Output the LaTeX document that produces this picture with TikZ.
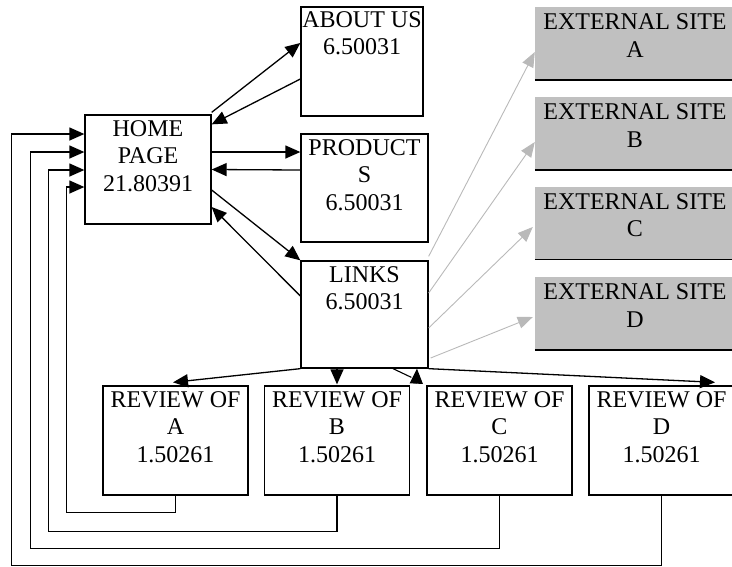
\documentclass[tikz,border=0pt]{standalone}
\usepackage{fontspec}
\setmainfont{Liberation Serif}
\usetikzlibrary{arrows.meta}
\definecolor{extgray}{RGB}{192,192,192}
\definecolor{linkgray}{RGB}{185,185,185}
\begin{document}
\begin{tikzpicture}[x=1pt,y=-1pt,
  box/.style={draw, line width=1.3pt, inner sep=0pt, minimum height=109pt},
  extbox/.style={fill=extgray, inner sep=0pt, minimum width=200pt, minimum height=73pt},
  lbl/.style={anchor=north, align=center, inner sep=0pt, font=\fontsize{24}{27.5}\selectfont},
  arr/.style={line width=1.3pt, -{Triangle[length=15pt,width=13pt]}},
  garr/.style={line width=0.9pt, draw=linkgray, -{Triangle[length=15pt,width=12pt,fill=linkgray]}},
  ret/.style={line width=1.3pt, -{Triangle[length=15pt,width=13pt]}}]
\useasboundingbox (0,0) rectangle (732,566);

% main boxes
\node[box, minimum width=126pt] (home) at (148,169.5) {};
\node[lbl] (homet) at ([yshift=-6pt]home.north) {HOME\\PAGE\\21.80391};
\node[box, minimum width=122pt] (about) at (362,61.5) {};
\node[lbl] (aboutt) at ([yshift=-5pt]about.north) {ABOUT US\\6.50031};
\node[box, minimum width=127pt, minimum height=108pt] (prod) at (364.5,188) {};
\node[lbl] (prodt) at ([yshift=-6pt]prod.north) {PRODUCT\\S\\6.50031};
\node[box, minimum width=127pt, minimum height=107pt] (links) at (364.5,314.5) {};
\node[lbl] (linkst) at ([yshift=-6pt]links.north) {LINKS\\6.50031};

% external sites
\foreach \n/\l/\y in {extA/A/43.5, extB/B/133.5, extC/C/223, extD/D/313.5}{
  \node[extbox] (\n) at (635,\y) {};
  \node[lbl] (\n t) at ([yshift=-7pt]\n.north) {EXTERNAL SITE\\\l};
  \draw[line width=1.5pt] (\n.south west) -- (\n.south east);
}

% reviews
\foreach \n/\l/\x in {revA/A/175.5, revB/B/337, revC/C/499.5, revD/D/661.5}{
  \node[box, minimum width=145pt] (\n) at (\x,440.5) {};
  \node[lbl] (\n t) at ([yshift=-6pt]\n.north) {REVIEW OF\\\l\\1.50261};
}

% home <-> about, products, links
\draw[arr] ([yshift=2pt]home.north east) -- ([yshift=18.5pt]about.west);
\draw[arr] ([yshift=-17.5pt]about.west) -- ([yshift=-10pt]home.north east);
\draw[arr] ([yshift=17.5pt]home.east) -- ([yshift=36pt]prod.west);
\draw[arr] ([yshift=18pt]prod.west) -- (home.east);
\draw[arr] ([yshift=-20.5pt]home.east) -- (links.north west);
\draw[arr] ([yshift=18.5pt]links.west) -- ([yshift=-37.5pt]home.east);

% links -> external sites
\draw[garr] ([yshift=4pt]links.north east) -- ([yshift=-8.5pt]extA.west);
\draw[garr] ([yshift=21.5pt]links.east) -- ([yshift=-8.5pt]extB.west);
\draw[garr] ([yshift=-13.5pt]links.east) -- ([xshift=-2pt,yshift=-4pt]extC.west);
\draw[garr] ([xshift=2pt,yshift=-43.5pt]links.east) -- ([xshift=-2pt,yshift=-3.5pt]extD.west);

% links -> reviews
\draw[arr] (links.south west) -- ([xshift=-2.5pt,yshift=3pt]revA.north);
\draw[arr] ([xshift=-27.5pt]links.south) -- ([yshift=1pt]revB.north);
\draw[line width=1.1pt] ([xshift=28.5pt]links.south) -- ([xshift=-15pt,yshift=8pt]revC.north west);
\draw[arr] ([xshift=-10pt,yshift=3pt]revC.north west) -- ([xshift=52.5pt]links.south);
\draw[arr] (links.south east) -- ([xshift=53.5pt,yshift=3pt]revD.north);

% reviews -> home
\draw[ret] (revA.south) -- ++(0,17) -| ([xshift=-18pt,yshift=-17.5pt]home.west) -- ([yshift=-17.5pt]home.west);
\draw[ret] (revB.south) -- ++(0,36) -| ([xshift=-36pt,yshift=-0.5pt]home.west) -- ([yshift=-0.5pt]home.west);
\draw[ret] (revC.south) -- ++(0,53) -| ([xshift=-54pt,yshift=17.5pt]home.west) -- ([yshift=17.5pt]home.west);
\draw[ret] (revD.south) -- ++(0,70) -| ([xshift=-73pt,yshift=35.5pt]home.west) -- ([yshift=35.5pt]home.west);
\end{tikzpicture}
\end{document}
